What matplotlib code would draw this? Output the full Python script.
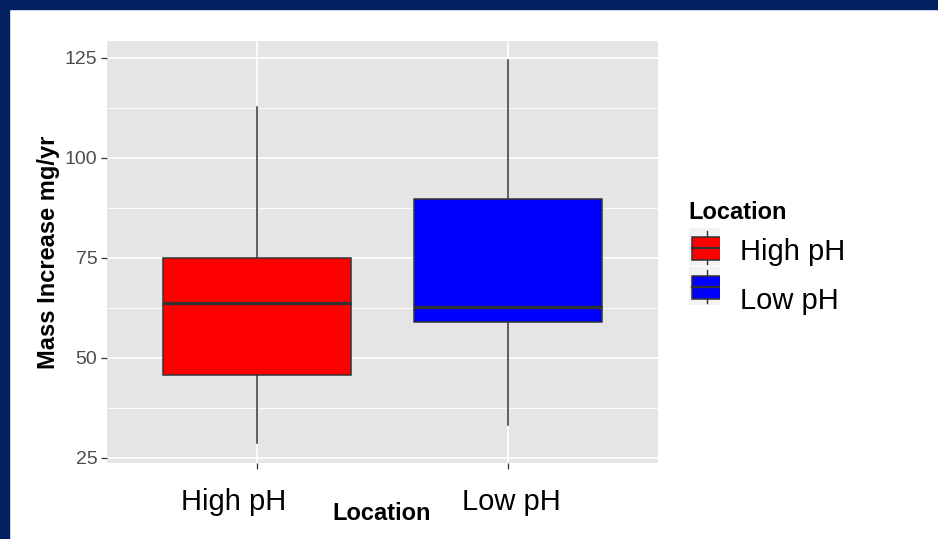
import matplotlib
matplotlib.use("Agg")
import matplotlib.pyplot as plt
from matplotlib.patches import Rectangle

# data
locations = ["High pH", "Low pH"]
whisker_low = [28.7, 33.3]
q1 = [45.8, 59.0]
median = [63.7, 62.8]
q3 = [75.0, 89.8]
whisker_high = [112.7, 124.5]
box_colors = ["#FF0000", "#0000FF"]

yticks = [25, 50, 75, 100, 125]
yminor = [37.5, 62.5, 87.5, 112.5]

plt.rcParams["font.family"] = ["Liberation Sans", "DejaVu Sans"]

W, H = 938, 539
fig = plt.figure(figsize=(W / 100, H / 100), dpi=100)
fig.patch.set_facecolor("white")

# navy frame on top and left
navy = "#012060"
fig.patches.append(Rectangle((0, 1 - 8.5 / H), 1, 8.5 / H, transform=fig.transFigure,
                             color=navy, zorder=0))
fig.patches.append(Rectangle((0, 0), 8.5 / W, 1, transform=fig.transFigure,
                             color=navy, zorder=0))

ax = fig.add_axes([107 / W, 1 - 463 / H, 551 / W, 422 / H])

stats = []
for i, loc in enumerate(locations):
    stats.append(dict(label=loc, whislo=whisker_low[i], q1=q1[i], med=median[i],
                      q3=q3[i], whishi=whisker_high[i]))

edge = "#333333"
res = ax.bxp(stats, positions=[1, 2], widths=0.75, showfliers=False, showcaps=False,
             patch_artist=True,
             boxprops=dict(edgecolor=edge, linewidth=1.1),
             whiskerprops=dict(color=edge, linewidth=1.1),
             medianprops=dict(color=edge, linewidth=2.4))
for patch, c in zip(res["boxes"], box_colors):
    patch.set_facecolor(c)

ax.set_xlim(0.4, 2.6)
ax.set_ylim(23.75, 129.25)
ax.set_facecolor("#E5E5E5")
for s in ax.spines.values():
    s.set_visible(False)

ax.set_yticks(yticks)
ax.set_yticks(yminor, minor=True)
ax.set_xticks([1, 2], labels=["", ""])
ax.set_axisbelow(True)
ax.grid(which="major", color="white", linewidth=1.2)
ax.grid(which="minor", axis="y", color="white", linewidth=0.6)
ax.tick_params(which="minor", length=0)
ax.tick_params(which="major", length=4, width=0.9, color=edge,
               labelsize=14, labelcolor="#4D4D4D", pad=3)

# category labels (the left one sits a bit off its tick in the reference)
label_shift_px = [-24, 4]
for i, loc in enumerate(locations):
    ax.annotate(loc, xy=(i + 1, 0), xycoords=ax.get_xaxis_transform(),
                xytext=(label_shift_px[i], -47), textcoords="offset pixels",
                ha="center", va="baseline", fontsize=21, color="black")

ax.set_ylabel("Mass Increase mg/yr", fontsize=17, fontweight="bold", labelpad=3)
fig.text(382 / W, 1 - 520 / H, "Location", ha="center", va="baseline",
         fontsize=17, fontweight="bold")

# legend
fig.text(688 / W, 1 - 219 / H, "Location", ha="left", va="baseline",
         fontsize=17, fontweight="bold")
key_tops = [228, 267]
label_base = [260, 309]
for i, loc in enumerate(locations):
    kax = fig.add_axes([689 / W, 1 - (key_tops[i] + 38) / H, 31 / W, 38 / H])
    kax.set_xlim(0, 1)
    kax.set_ylim(0, 1)
    kax.axis("off")
    kax.add_patch(Rectangle((0, 0), 1, 1, color="#F2F2F2", zorder=0))
    kax.plot([0.57, 0.57], [0.06, 0.92], color=edge, lw=1.0, zorder=1)
    kax.add_patch(Rectangle((0.1, 0.17), 1.3, 0.58, facecolor=box_colors[i],
                            edgecolor=edge, lw=1.1, zorder=2))
    kax.plot([0.1, 1.0], [0.47, 0.47], color=edge, lw=1.6, zorder=3)
    fig.text(740 / W, 1 - label_base[i] / H, loc, ha="left", va="baseline",
             fontsize=21)

fig.savefig("out.png", dpi=100)
